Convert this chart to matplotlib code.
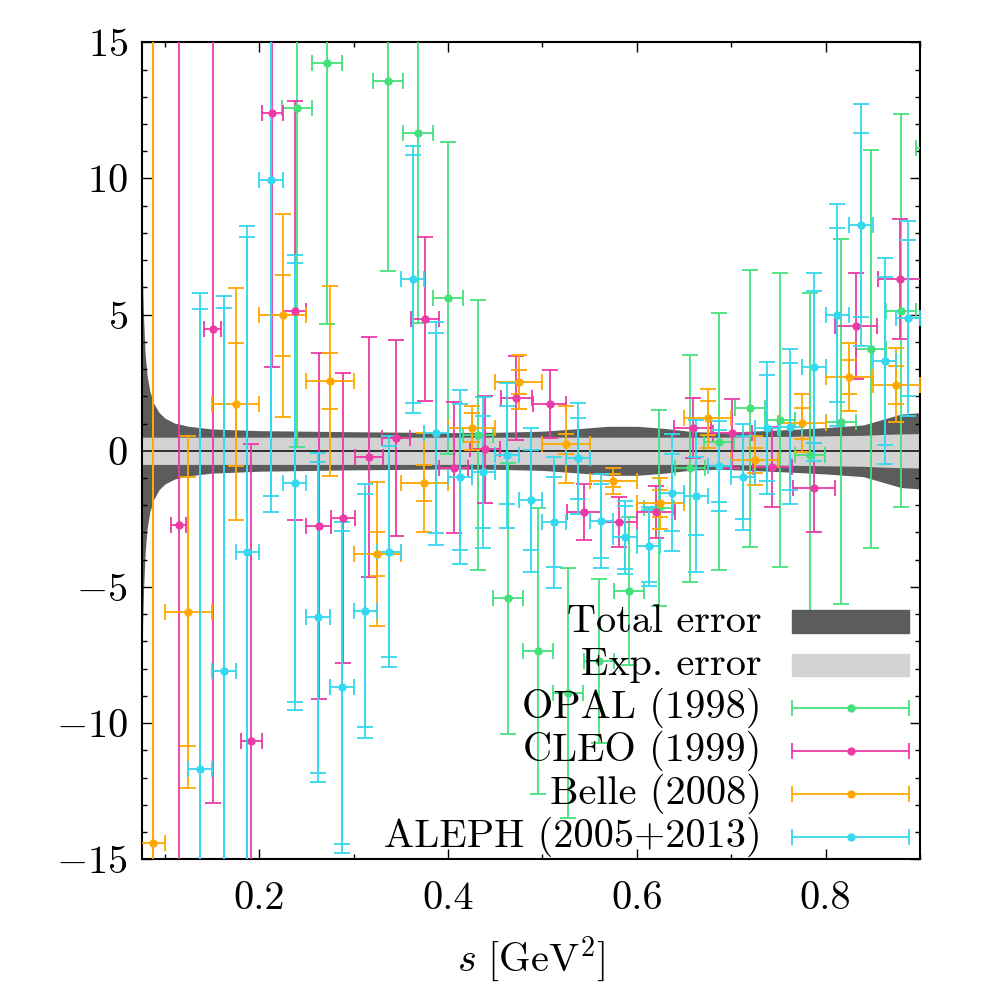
import matplotlib
matplotlib.use('Agg')
import matplotlib.pyplot as plt
from matplotlib.patches import Rectangle

plt.rcParams['font.family'] = 'serif'
plt.rcParams['font.serif'] = ['cmr10']
plt.rcParams['mathtext.fontset'] = 'cm'
plt.rcParams['axes.formatter.use_mathtext'] = True
plt.rcParams['font.size'] = 29

# error bands (relative deviation in %)
band_s = [0.0754, 0.0758, 0.0765, 0.0775, 0.079, 0.081, 0.084, 0.088, 0.094, 0.10,
          0.11, 0.125, 0.15, 0.2, 0.3, 0.4, 0.45, 0.5, 0.54, 0.57, 0.60, 0.63, 0.66,
          0.69, 0.72, 0.76, 0.80, 0.84, 0.86, 0.88, 0.9]
tot_hi = [9.0, 7.5, 6.0, 4.8, 3.6, 2.8, 2.2, 1.75, 1.4, 1.2, 1.02, 0.9, 0.8, 0.74, 0.7,
          0.67, 0.68, 0.72, 0.82, 0.9, 0.9, 0.82, 0.7, 0.68, 0.72, 0.78, 0.85, 0.95,
          1.15, 1.35, 1.4]
tot_lo = [-10.0, -8.0, -6.3, -5.0, -3.8, -2.9, -2.25, -1.8, -1.42, -1.22, -1.04, -0.92,
          -0.82, -0.75, -0.7, -0.67, -0.68, -0.72, -0.82, -0.9, -0.9, -0.82, -0.7, -0.68,
          -0.72, -0.78, -0.85, -0.95, -1.15, -1.35, -1.4]
exp_hi = [0.5] * 24 + [0.52, 0.53, 0.55, 0.57, 0.6, 0.62, 0.63]
exp_lo = [-v for v in exp_hi]

# OPAL (1998)
opal_s = [0.2403, 0.2720, 0.3364, 0.3680, 0.4000, 0.4320, 0.4637, 0.4954, 0.5270, 0.5600,
          0.5920, 0.6238, 0.6563, 0.6874, 0.7200, 0.7518, 0.7836, 0.8160, 0.8482, 0.8800,
          0.9115]
opal_y = [12.58, 14.25, 13.58, 11.68, 5.60, 0.58, -5.42, -7.34, -8.90, -7.71, -5.15, -2.10,
          -0.64, 0.33, 1.56, 1.13, -0.15, 1.07, 3.73, 5.15, 11.1]
opal_err = [12.45, 9.6, 6.98, 6.98, 5.73, 4.95, 4.99, 5.25, 4.6, 3.02, 2.73, 3.6, 4.17,
            4.72, 5.08, 5.39, 5.96, 6.7, 7.3, 7.23, 7.5]
opal_ds = [0.016] * len(opal_s)

# CLEO (1999)
cleo_s = [0.1146, 0.1505, 0.1915, 0.2137, 0.2374, 0.2629, 0.2887, 0.3163, 0.3450, 0.3752,
          0.4058, 0.4390, 0.4724, 0.5078, 0.5442, 0.5810, 0.6203, 0.6590, 0.7012, 0.7436,
          0.7878, 0.8323, 0.8790]
cleo_y = [-2.73, 4.47, -10.66, 12.39, 5.15, -2.76, -2.46, -0.22, 0.46, 4.83, -0.62, 0.05,
          1.95, 1.71, -2.25, -2.60, -2.24, 0.85, 0.64, -0.58, -1.35, 4.58, 6.31]
cleo_err = [20, 17.4, 10.9, 9.3, 7.7, 6.36, 5.32, 4.41, 3.6, 3.02, 2.4, 1.95, 1.54, 1.24,
            1.02, 0.92, 0.96, 1.1, 1.27, 1.47, 1.65, 1.94, 2.2]
cleo_ds = [0.008, 0.009, 0.011, 0.011, 0.012, 0.013, 0.013, 0.0145, 0.0145, 0.015, 0.0155,
           0.016, 0.0165, 0.0175, 0.018, 0.019, 0.02, 0.02, 0.021, 0.021, 0.022, 0.022, 0.023]

# Belle (2008)
belle_s = [0.0875, 0.125, 0.175, 0.225, 0.275, 0.325, 0.375, 0.425, 0.475, 0.525, 0.575,
           0.625, 0.675, 0.725, 0.775, 0.825, 0.875]
belle_y = [-14.4, -5.91, 1.71, 4.97, 2.57, -3.79, -1.17, 0.85, 2.52, 0.24, -1.10, -1.93,
           1.19, -0.34, 1.01, 2.72, 2.42]
belle_err = [35, 6.46, 4.25, 3.74, 3.48, 2.63, 1.83, 0.81, 1.0, 1.41, 0.48, 0.93, 1.07, 0.9,
             1.07, 1.25, 1.36]
belle_stat = [30, 4.93, 2.26, 1.49, 1.03, 0.8, 0.66, 0.52, 0.43, 0.37, 0.24, 0.5, 0.62, 0.46,
              0.56, 0.62, 0.69]
belle_ds = [0.0125] + [0.025] * 16

# ALEPH (2005+2013)
aleph_s = [0.1375, 0.1625, 0.1875, 0.2125, 0.2375, 0.2625, 0.2875, 0.3125, 0.3375, 0.3625,
           0.3875, 0.4125, 0.4375, 0.4625, 0.4875, 0.5125, 0.5375, 0.5625, 0.5875, 0.6125,
           0.6375, 0.6625, 0.6875, 0.7125, 0.7375, 0.7625, 0.7875, 0.8125, 0.8375, 0.8625,
           0.8875]
aleph_y = [-11.69, -8.09, -3.70, 9.93, -1.17, -6.12, -8.69, -5.87, -3.70, 6.30, 0.64, -0.97,
           -0.79, -0.17, -1.81, -2.63, -0.28, -2.57, -3.18, -3.50, -1.54, -1.66, -0.56,
           -0.97, 0.83, 0.89, 3.09, 4.99, 8.29, 3.30, 4.87]
aleph_err = [17.5, 13.77, 11.97, 12.19, 8.36, 6.05, 6.07, 4.66, 4.23, 4.9, 4.1, 3.2, 2.78,
             2.66, 2.65, 2.39, 2.03, 1.73, 1.35, 1.45, 2.15, 2.78, 1.64, 1.95, 2.42, 2.86,
             3.45, 4.07, 4.43, 3.77, 3.58]
aleph_stat = [16.9, 13.32, 11.56, 11.6, 8.05, 5.72, 5.74, 4.28, 3.88, 4.56, 3.67, 2.68, 2.05,
              1.8, 1.83, 1.65, 1.48, 1.35, 1.16, 1.33, 1.42, 1.43, 1.31, 1.52, 1.95, 2.34,
              2.79, 3.2, 3.39, 3.09, 2.87]
aleph_ds = [0.0125] * len(aleph_s)

c_total = '#5c5c5c'
c_exp = '#d3d3d3'
c_opal = '#45e07c'
c_cleo = '#ec3aa6'
c_belle = '#ffa800'
c_aleph = '#35d8ef'

fig = plt.figure(figsize=(9.97, 9.97), dpi=100)
ax = fig.add_axes([0.1421, 0.1381, 0.7807, 0.8195])

ax.fill_between(band_s, tot_lo, tot_hi, color=c_total, lw=0, zorder=1)
ax.fill_between(band_s, exp_lo, exp_hi, color=c_exp, lw=0, zorder=2)
ax.axhline(0, color='#222222', lw=1.3, zorder=3)

eb = dict(fmt='o', ms=5, lw=1.3, capsize=6, capthick=1.3, zorder=4)
ax.errorbar(opal_s, opal_y, yerr=opal_err, xerr=opal_ds, color=c_opal, **eb)
ax.errorbar(cleo_s, cleo_y, yerr=cleo_err, xerr=cleo_ds, color=c_cleo, **eb)
ax.errorbar(belle_s, belle_y, yerr=belle_err, xerr=belle_ds, color=c_belle, **eb)
ax.errorbar(belle_s, belle_y, yerr=belle_stat, fmt='none', ecolor=c_belle, lw=1.3,
            capsize=6, capthick=1.3, zorder=4)
ax.errorbar(aleph_s, aleph_y, yerr=aleph_err, xerr=aleph_ds, color=c_aleph, **eb)
ax.errorbar(aleph_s, aleph_y, yerr=aleph_stat, fmt='none', ecolor=c_aleph, lw=1.3,
            capsize=6, capthick=1.3, zorder=4)

ax.set_xticks([0.2, 0.4, 0.6, 0.8])
ax.set_xticklabels(['0.2', '0.4', '0.6', '0.8'])
ax.set_xticks([0.1, 0.3, 0.5, 0.7, 0.9], minor=True)
ax.set_yticks([-15, -10, -5, 0, 5, 10, 15])
ax.set_yticks(range(-15, 16), minor=True)
ax.tick_params(which='both', direction='in', top=True, right=True, width=1.0)
ax.tick_params(which='major', length=7.5)
ax.tick_params(which='minor', length=3.8)
ax.tick_params(axis='x', pad=16)
ax.tick_params(axis='y', pad=10)
for sp in ax.spines.values():
    sp.set_linewidth(1.5)
ax.set_xlabel(r'$s\ [\mathrm{GeV}^2]$', labelpad=12)

# legend drawn by hand, gnuplot style (text right aligned, sample on the right)
labels = ['Total error', 'Exp. error', 'OPAL (1998)', 'CLEO (1999)', 'Belle (2008)',
          'ALEPH (2005+2013)']
rows = [0.2908, 0.2378, 0.1855, 0.1326, 0.0799, 0.0273]
for lab, yy in zip(labels, rows):
    ax.text(0.7966, yy, lab, ha='right', va='center', transform=ax.transAxes, zorder=6)
ax.add_patch(Rectangle((0.836, rows[0] - 0.0139), 0.15, 0.0278, color=c_total,
                       transform=ax.transAxes, zorder=6))
ax.add_patch(Rectangle((0.836, rows[1] - 0.0139), 0.15, 0.0278, color=c_exp,
                       transform=ax.transAxes, zorder=6))
for col, yy in zip([c_opal, c_cleo, c_belle, c_aleph], rows[2:]):
    ax.errorbar([0.911], [yy], xerr=[0.075], fmt='o', ms=5, lw=1.3, capsize=6,
                capthick=1.3, color=col, transform=ax.transAxes, zorder=6, clip_on=False)

ax.set_xlim(0.0754, 0.9)
ax.set_ylim(-15, 15)
fig.savefig('out.png', dpi=100)
